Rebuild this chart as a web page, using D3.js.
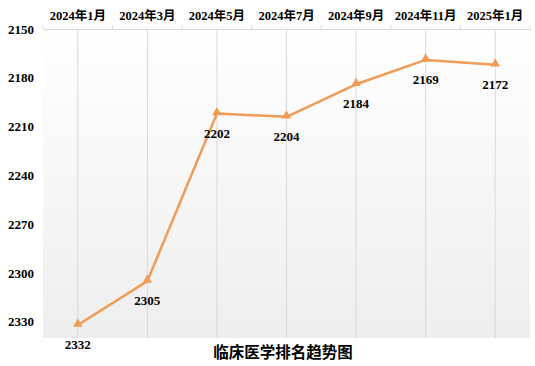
<!DOCTYPE html>
<html><head><meta charset="utf-8">
<script src="https://cdn.jsdelivr.net/npm/d3@7/dist/d3.min.js"></script>
<style>body{margin:0;background:#fff}svg{display:block}</style>
</head><body>
<script>
const categories = ["2024年1月","2024年3月","2024年5月","2024年7月","2024年9月","2024年11月","2025年1月"];
const values = [2332, 2305, 2202, 2204, 2184, 2169, 2172];
const yTicks = [2150, 2180, 2210, 2240, 2270, 2300, 2330];
const title = "临床医学排名趋势图";

const W = 535, H = 366;
const m = {left: 43, right: 5, top: 29, bottom: 28};
const svg = d3.select("body").append("svg").attr("width", W).attr("height", H);

const x = d3.scaleBand().domain(categories).range([m.left, W - m.right]);
const y = d3.scaleLinear().domain([2150, 2340]).range([m.top, H - m.bottom]);

const defs = svg.append("defs");
const grad = defs.append("linearGradient").attr("id","bg").attr("x1",0).attr("y1",0).attr("x2",0).attr("y2",1);
grad.append("stop").attr("offset","0%").attr("stop-color","#ffffff");
grad.append("stop").attr("offset","100%").attr("stop-color","#eeeeee");

svg.append("rect").attr("x", m.left).attr("y", m.top)
  .attr("width", W - m.right - m.left).attr("height", H - m.bottom - m.top)
  .attr("fill","url(#bg)");

svg.append("g").selectAll("line").data(categories).join("line")
  .attr("x1", d => x(d) + x.bandwidth()/2).attr("x2", d => x(d) + x.bandwidth()/2)
  .attr("y1", m.top).attr("y2", H - m.bottom)
  .attr("stroke","#d9d9d9").attr("stroke-width",1);

const xAxis = svg.append("g").attr("transform", `translate(0,${m.top})`)
  .call(d3.axisTop(x).tickSize(0).tickPadding(9));
xAxis.select(".domain").attr("stroke","#d9d9d9");
xAxis.selectAll("text").attr("font-family","'Liberation Serif','Noto Sans CJK SC',serif")
  .attr("font-weight","bold").attr("font-size",12.5).attr("fill","#000");
const bounds = categories.map(d => x(d)).concat([x(categories[categories.length-1]) + x.bandwidth()]);
svg.append("g").selectAll("line").data(bounds).join("line")
  .attr("x1", d => d).attr("x2", d => d).attr("y1", m.top - 4).attr("y2", m.top)
  .attr("stroke","#d9d9d9");

const yAxis = svg.append("g").attr("transform", `translate(${m.left},0)`)
  .call(d3.axisLeft(y).tickValues(yTicks).tickFormat(d3.format("d")).tickSize(0).tickPadding(9));
yAxis.select(".domain").remove();
yAxis.selectAll("text").attr("font-family","'Liberation Serif',serif")
  .attr("font-weight","bold").attr("font-size",13).attr("fill","#000");

const color = "#ef9c57";
const pts = categories.map((c,i) => ({c, v: values[i]}));
const cx = d => x(d.c) + x.bandwidth()/2;

svg.append("path").datum(pts)
  .attr("d", d3.line().x(cx).y(d => y(d.v)))
  .attr("fill","none").attr("stroke",color).attr("stroke-width",2.5).attr("stroke-linejoin","round");

svg.append("g").selectAll("path").data(pts).join("path")
  .attr("d", d3.symbol(d3.symbolTriangle, 40))
  .attr("transform", d => `translate(${cx(d)},${y(d.v) - 1})`)
  .attr("fill", color);

svg.append("g").selectAll("text").data(pts).join("text")
  .attr("x", cx).attr("y", d => y(d.v) + 24)
  .attr("text-anchor","middle")
  .attr("font-family","'Liberation Serif',serif").attr("font-weight","bold")
  .attr("font-size",13).attr("fill","#000")
  .text(d => d.v);

svg.append("text").attr("x", 283).attr("y", 358).attr("text-anchor","middle")
  .attr("font-family","'Noto Sans CJK SC',sans-serif").attr("font-weight","bold")
  .attr("font-size",15.5).attr("fill","#000").text(title);
</script>
</body></html>
